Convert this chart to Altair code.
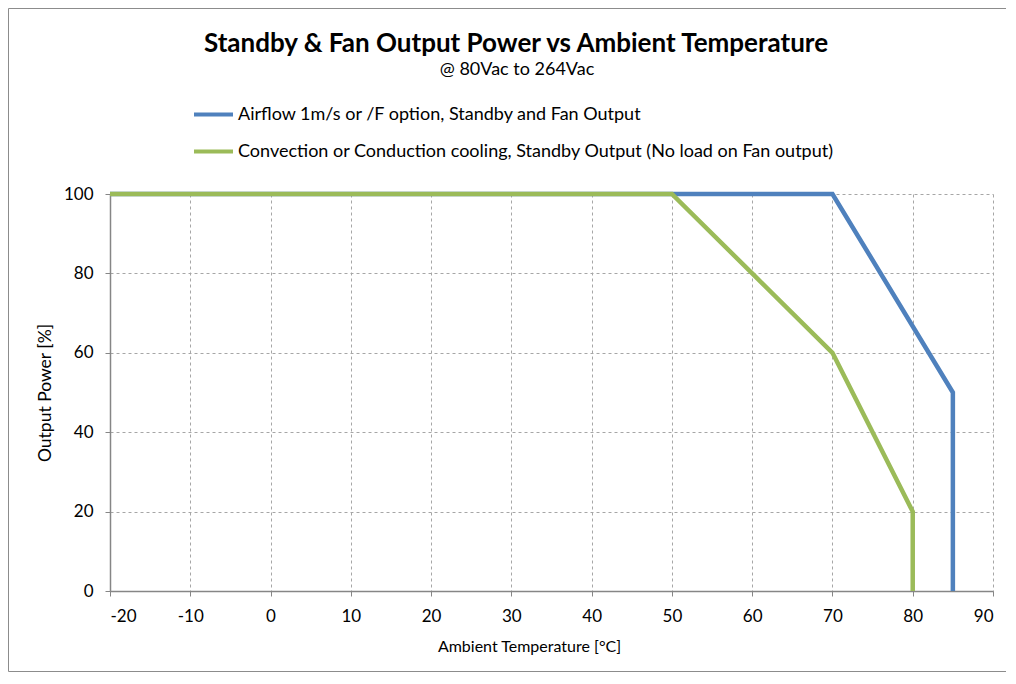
import altair as alt
import pandas as pd

FONT = "Lato"

# ---- data ----
series_names = [
    "Airflow 1m/s or /F option, Standby and Fan Output",
    "Convection or Conduction cooling, Standby Output (No load on Fan output)",
]
series_colors = ["#4F81BD", "#9BBB59"]

airflow_temp = [-20, 50, 70, 85, 85]
airflow_power = [100, 100, 100, 50, 0]

convection_temp = [-20, 50, 60, 70, 80, 80]
convection_power = [100, 100, 80, 60, 20, 0]

x_ticks = [-20, -10, 0, 10, 20, 30, 40, 50, 60, 70, 80, 90]
y_ticks = [0, 20, 40, 60, 80, 100]

title_text = "Standby & Fan Output Power vs Ambient Temperature"
subtitle_text = "@ 80Vac to 264Vac"

df_air = pd.DataFrame({"temp": airflow_temp, "power": airflow_power,
                       "series": series_names[0], "idx": range(len(airflow_temp))})
df_conv = pd.DataFrame({"temp": convection_temp, "power": convection_power,
                        "series": series_names[1], "idx": range(len(convection_temp))})

W, H = 883, 397

color = alt.Color(
    "series:N",
    scale=alt.Scale(domain=series_names, range=series_colors),
    legend=alt.Legend(
        title=None,
        orient="none",
        legendX=82,
        legendY=-101,
        symbolType="stroke",
        symbolSize=1521,
        symbolStrokeWidth=4,
        labelFont=FONT,
        labelFontSize=18,
        labelColor="#000000",
        labelOffset=3,
        rowPadding=6,
        labelLimit=800,
    ),
)

x_enc = alt.X(
    "temp:Q",
    scale=alt.Scale(domain=[-20, 90], nice=False, zero=False),
    axis=alt.Axis(values=x_ticks, title="Ambient Temperature [°C]", titleX=419,
                  labelExpr="datum.value + ''"),
)
y_enc = alt.Y(
    "power:Q",
    scale=alt.Scale(domain=[0, 100], nice=False),
    axis=alt.Axis(values=y_ticks, title="Output Power [%]", titleFontSize=17.5,
                  labelExpr="datum.value + ''"),
)

line_air = alt.Chart(df_air).mark_line(strokeWidth=4.5).encode(
    x=x_enc, y=y_enc, color=color, order="idx:Q"
)
line_conv = alt.Chart(df_conv).mark_line(strokeWidth=4.5).encode(
    x=x_enc, y=y_enc, color=color, order="idx:Q"
)

one = pd.DataFrame({"t": [title_text], "s": [subtitle_text]})
frame = alt.Chart(one).mark_rect(filled=False, stroke="#8C8C8C", strokeWidth=1, clip=False).encode(
    x=alt.value(-101.5), x2=alt.value(896.5), y=alt.value(-185.5), y2=alt.value(477.5)
)
title = alt.Chart(one).mark_text(
    font=FONT, fontSize=26, fontWeight="bold", color="#000000", baseline="alphabetic", align="center"
).encode(text="t:N", x=alt.value(406), y=alt.value(-142))
subtitle = alt.Chart(one).mark_text(
    font=FONT, fontSize=18, color="#000000", baseline="alphabetic", align="center"
).encode(text="s:N", x=alt.value(407), y=alt.value(-119))

chart = alt.layer(frame, line_air, line_conv, title, subtitle).properties(
    width=W,
    height=H,
    autosize=alt.AutoSizeParams(type="none"),
    padding={"left": 102, "top": 186, "right": 13, "bottom": 81},
    background="white",
).configure_view(stroke=None).configure_axis(
    labelFont=FONT,
    labelFontSize=17,
    labelColor="#000000",
    titleFont=FONT,
    titleFontSize=16,
    titleFontWeight="normal",
    titleColor="#000000",
    domainColor="#868686",
    domainWidth=1.5,
    tickColor="#868686",
    tickSize=5,
    tickWidth=1,
    gridColor="#A6A6A6",
    gridDash=[3, 3],
    gridWidth=1,
).configure_axisY(
    labelPadding=12, titlePadding=9
).configure_axisX(
    labelPadding=12, titlePadding=14
)

chart.save("out.html", embed_options={"renderer": "svg", "actions": False})
